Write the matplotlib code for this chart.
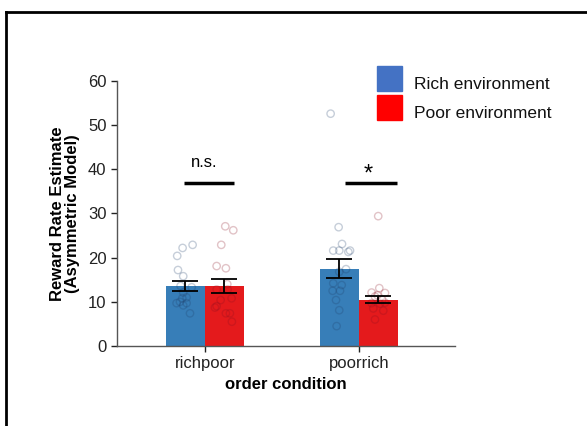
import matplotlib
matplotlib.use('Agg')
from matplotlib import pyplot as plt
from matplotlib.patches import Rectangle
from matplotlib.lines import Line2D

plt.rcParams['font.family'] = ['Liberation Sans', 'DejaVu Sans']

# data
conditions = ['richpoor', 'poorrich']
rich_means = [13.5, 17.5]
poor_means = [13.5, 10.5]
rich_sem = [1.15, 2.1]
poor_sem = [1.6, 0.8]

# individual subjects: values and horizontal jitter (data units from group centre)
rich_pts = [
    [22.9, 22.2, 20.4, 17.2, 15.8, 13.6, 13.3, 12.1, 11.0, 10.8, 10.0, 9.7, 9.7, 9.2, 7.4],
    [52.6, 26.9, 23.1, 21.6, 21.6, 21.3, 21.6, 17.4, 16.8, 14.2, 13.8, 12.5, 12.5, 10.4, 8.1, 4.5],
]
rich_jit = [
    [-0.080, -0.145, -0.180, -0.175, -0.141, -0.158, -0.086, -0.141, -0.119, -0.147,
     -0.162, -0.184, -0.119, -0.141, -0.097],
    [-0.184, -0.132, -0.110, -0.167, -0.128, -0.069, -0.058, -0.084, -0.128, -0.167,
     -0.112, -0.171, -0.123, -0.149, -0.128, -0.145],
]
poor_pts = [
    [27.1, 26.2, 22.9, 18.1, 17.6, 14.0, 12.8, 12.8, 10.8, 10.4, 9.0, 8.7, 7.4, 7.4, 5.5],
    [29.4, 13.1, 12.1, 12.0, 11.2, 11.5, 10.5, 9.7, 9.6, 9.8, 8.5, 8.0, 6.0],
]
poor_jit = [
    [0.132, 0.184, 0.106, 0.076, 0.136, 0.145, 0.076, 0.147, 0.173, 0.102,
     0.076, 0.065, 0.136, 0.162, 0.175],
    [0.125, 0.132, 0.082, 0.169, 0.104, 0.120, 0.150, 0.082, 0.136, 0.169,
     0.093, 0.158, 0.104],
]

# significance bars: (x start, x end, y, label)
sig = [(-0.136, 0.188, 36.9, 'n.s.'), (0.909, 1.245, 36.9, '*')]

legend_labels = ['Rich environment', 'Poor environment']
legend_colors = ['#4472c4', '#ff0000']

fig = plt.figure(figsize=(5.87, 4.26), dpi=100)
ax = fig.add_axes([0.1993, 0.1878, 0.5757, 0.6221])

w = 0.253
x = [0, 1]
ax.bar([i - w / 2 for i in x], rich_means, w, color='#377eb8', zorder=1)
ax.bar([i + w / 2 for i in x], poor_means, w, color='#e41a1c', zorder=1)

for i in x:
    ax.scatter([i + j for j in rich_jit[i]], rich_pts[i], s=28, facecolors='none',
               edgecolors='#1f3f6a', linewidths=1, alpha=0.25, zorder=2)
    ax.scatter([i + j for j in poor_jit[i]], poor_pts[i], s=28, facecolors='none',
               edgecolors='#8a1020', linewidths=1, alpha=0.25, zorder=2)

ax.errorbar([i - w / 2 for i in x], rich_means, yerr=rich_sem, fmt='none',
            ecolor='black', elinewidth=1.3, capsize=9.5, capthick=1.3, zorder=3)
ax.errorbar([i + w / 2 for i in x], poor_means, yerr=poor_sem, fmt='none',
            ecolor='black', elinewidth=1.3, capsize=9.5, capthick=1.3, zorder=3)

for x0, x1, y, lab in sig:
    ax.plot([x0, x1], [y, y], color='black', lw=2.5, solid_capstyle='butt')
ax.text((sig[0][0] + sig[0][1]) / 2 - 0.03, 39.8, sig[0][3], ha='center', va='bottom', fontsize=12)
ax.text((sig[1][0] + sig[1][1]) / 2 - 0.02, 36.4, sig[1][3], ha='center', va='bottom', fontsize=17)

ax.set_xlim(-0.571, 1.623)
ax.set_ylim(0, 60)
ax.set_yticks([0, 10, 20, 30, 40, 50, 60])
ax.set_xticks(x)
ax.set_xticklabels(conditions)
ax.tick_params(labelsize=12, colors='#222222', length=4, width=1)
for s in ['top', 'right']:
    ax.spines[s].set_visible(False)
for s in ['left', 'bottom']:
    ax.spines[s].set_color('#555555')
    ax.spines[s].set_linewidth(1)
ax.set_xlabel('order condition', fontsize=12, fontweight='bold', labelpad=4)
ax.set_ylabel('Reward Rate Estimate\n(Asymmetric Model)', fontsize=12,
              fontweight='bold', labelpad=6, linespacing=0.95)

# legend drawn by hand in figure pixels
W, H = 587, 426
for k, (lab, col) in enumerate(zip(legend_labels, legend_colors)):
    top = 66 + 29 * k
    fig.add_artist(Rectangle((377 / W, 1 - (top + 24.5) / H), 24.5 / W, 24.5 / H,
                             color=col, transform=fig.transFigure))
    fig.text(414 / W, 1 - (top + 23) / H, lab, fontsize=12.5, color='#111111',
             ha='left', va='baseline')

# figure frame (cropped at right and bottom)
fig.add_artist(Line2D([6 / W, 1], [1 - 12 / H, 1 - 12 / H], color='black', lw=2))
fig.add_artist(Line2D([6 / W, 6 / W], [0, 1 - 12 / H], color='black', lw=2))

fig.savefig('out.png', dpi=100)
